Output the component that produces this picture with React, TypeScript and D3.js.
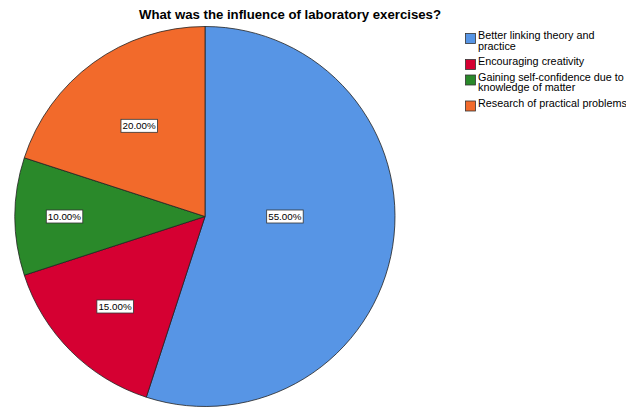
import { useEffect, useRef } from "react";
import * as d3 from "d3";

// data
const categories = [
  "Better linking theory and practice",
  "Encouraging creativity",
  "Gaining self-confidence due to knowledge of matter",
  "Research of practical problems",
];
const values = [55, 15, 10, 20];
const legendLines = [
  ["Better linking theory and", "practice"],
  ["Encouraging creativity"],
  ["Gaining self-confidence due to", "knowledge of matter"],
  ["Research of practical problems"],
];
const colors = ["#5795e5", "#d50032", "#2a892a", "#f26a2b"];
const title = "What was the influence of laboratory exercises?";

// label placement (fraction of radius), SPSS-like
const labelRadius = [0.42, 0.67, 0.74, 0.59];

const App = () => {
  const svgRef = useRef<SVGSVGElement | null>(null);

  useEffect(() => {
    const svg = d3.select(svgRef.current);
    svg.selectAll("*").remove();

    const width = 626;
    const height = 407;
    const cx = 205;
    const cy = 216.5;
    const r = 190;
    const font = "'Liberation Sans', Arial, sans-serif";

    svg.attr("width", width).attr("height", height);

    // title
    svg
      .append("text")
      .attr("x", 290)
      .attr("y", 19)
      .attr("text-anchor", "middle")
      .attr("font-family", font)
      .attr("font-size", 13.2)
      .attr("font-weight", "bold")
      .attr("fill", "#000")
      .text(title);

    const pie = d3
      .pie<number>()
      .sort(null)
      .value((d) => d);
    const arcs = pie(values);
    const arc = d3.arc<d3.PieArcDatum<number>>().innerRadius(0).outerRadius(r);

    const g = svg.append("g").attr("transform", `translate(${cx},${cy})`);

    g.selectAll("path")
      .data(arcs)
      .join("path")
      .attr("d", arc)
      .attr("fill", (_, i) => colors[i])
      .attr("stroke", "#222")
      .attr("stroke-width", 0.8)
      .attr("stroke-linejoin", "round");

    // labels
    const fmt = d3.format(".2f");
    const total = d3.sum(values);
    arcs.forEach((a, i) => {
      let ang = (a.startAngle + a.endAngle) / 2;
      if (i === 0) ang = Math.PI / 2;
      const lr = labelRadius[i] * r;
      const x = Math.sin(ang) * lr;
      const y = -Math.cos(ang) * lr;
      const lg = g.append("g").attr("transform", `translate(${x},${y})`);
      const txt = lg
        .append("text")
        .attr("text-anchor", "middle")
        .attr("dy", "0.35em")
        .attr("font-family", font)
        .attr("font-size", 9.8)
        .attr("fill", "#000")
        .text(`${fmt((a.data / total) * 100)}%`);
      const bb = (txt.node() as SVGTextElement).getBBox();
      lg.insert("rect", "text")
        .attr("x", bb.x - 1.5)
        .attr("y", -6.5)
        .attr("width", bb.width + 3)
        .attr("height", 13)
        .attr("fill", "#fff")
        .attr("stroke", "#333")
        .attr("stroke-width", 0.8);
    });

    // legend
    const legend = svg.append("g").attr("font-family", font).attr("font-size", 10.8);
    let yy = 33;
    const lineH = 10.5;
    categories.forEach((c, i) => {
      const lines = legendLines[i];
      legend
        .append("rect")
        .attr("x", 465.5)
        .attr("y", yy + 0.5)
        .attr("width", 10)
        .attr("height", 10)
        .attr("fill", colors[i])
        .attr("stroke", "#333")
        .attr("stroke-width", 0.8);
      const t = legend.append("text").attr("fill", "#000").attr("aria-label", c);
      lines.forEach((ln, j) => {
        t.append("tspan")
          .attr("x", 478)
          .attr("y", yy + 6 + j * lineH)
          .text(ln);
      });
      yy += lines.length * lineH + 5;
    });
  }, []);

  return (
    <svg
      ref={svgRef}
      style={{ position: "absolute", left: 0, top: 0, background: "#fff" }}
    ></svg>
  );
};

export default App;
